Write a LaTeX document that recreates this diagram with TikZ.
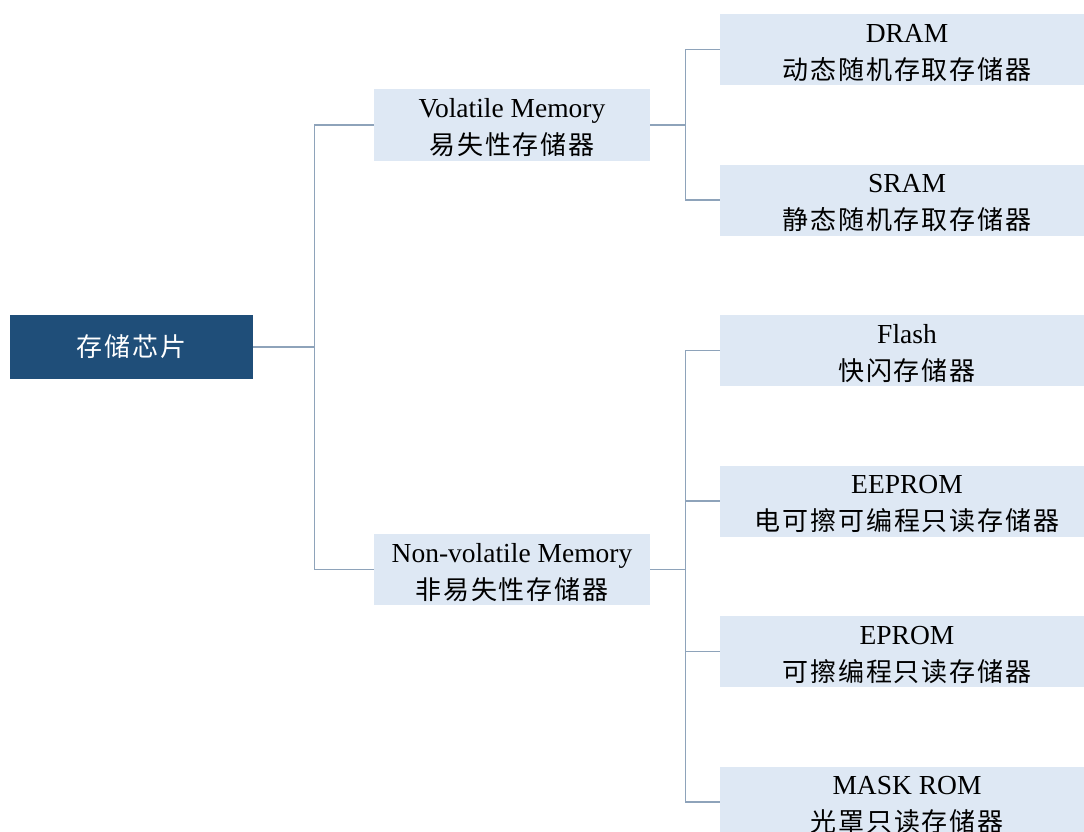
\documentclass[tikz,border=0pt]{standalone}
\usepackage{fontspec}
\setmainfont{Liberation Serif}
\newfontfamily\cjk[LetterSpace=7]{Noto Sans CJK SC}
\definecolor{rootfill}{HTML}{1F4E79}
\definecolor{boxfill}{HTML}{DEE8F4}
\definecolor{linec}{HTML}{8EA3BA}
\newcommand\twolines[2]{\raisebox{-4pt}[\dimexpr\height-4pt\relax][\dimexpr\depth-4pt\relax]{\begin{tabular}{@{}c@{}}{\fontsize{27.5}{37}\selectfont #1}\\\cjk #2\end{tabular}}}
\tikzset{
  box/.style={rectangle, fill=boxfill, inner sep=0pt, align=center, text=black,
    font=\fontsize{26}{37}\selectfont},
  midbox/.style={box, minimum width=276pt, minimum height=71pt},
  leafbox/.style={box, minimum width=374pt, minimum height=71pt},
  rootbox/.style={rectangle, fill=rootfill, inner sep=0pt, text=white,
    minimum width=243pt, minimum height=64pt, font=\fontsize{26}{35}\selectfont},
  conn/.style={draw=linec, line width=1.3pt}
}
\begin{document}
\begin{tikzpicture}[x=1pt,y=-1pt]
\clip (0,0) rectangle (1084,832);
\fill[white] (0,0) rectangle (1084,832);
\node[rootbox] (root) at (131.5,347) {\cjk 存储芯片};
\node[midbox] (vol) at (512,125) {\twolines{Volatile Memory}{易失性存储器}};
\node[midbox] (nvol) at (512,569.5) {\twolines{Non-volatile Memory}{非易失性存储器}};
\node[leafbox] (dram) at (907,49.5) {\twolines{DRAM}{动态随机存取存储器}};
\node[leafbox] (sram) at (907,200) {\twolines{SRAM}{静态随机存取存储器}};
\node[leafbox] (flash) at (907,350.5) {\twolines{Flash}{快闪存储器}};
\node[leafbox] (eeprom) at (907,501) {\twolines{EEPROM}{电可擦可编程只读存储器}};
\node[leafbox] (eprom) at (907,651.5) {\twolines{EPROM}{可擦编程只读存储器}};
\node[leafbox] (mask) at (907,802) {\twolines{MASK ROM}{光罩只读存储器}};
\draw[conn] (root.east) -- ++(61,0) coordinate (j0);
\draw[conn] (j0) |- (vol.west);
\draw[conn] (j0) |- (nvol.west);
\draw[conn] (vol.east) -- ++(35,0) coordinate (j1);
\draw[conn] (j1) |- (dram.west);
\draw[conn] (j1) |- (sram.west);
\draw[conn] (nvol.east) -- ++(35,0) coordinate (j2);
\draw[conn] (j2) |- (flash.west);
\draw[conn] (j2) |- (eeprom.west);
\draw[conn] (j2) |- (eprom.west);
\draw[conn] (j2) |- (mask.west);
\end{tikzpicture}
\end{document}
